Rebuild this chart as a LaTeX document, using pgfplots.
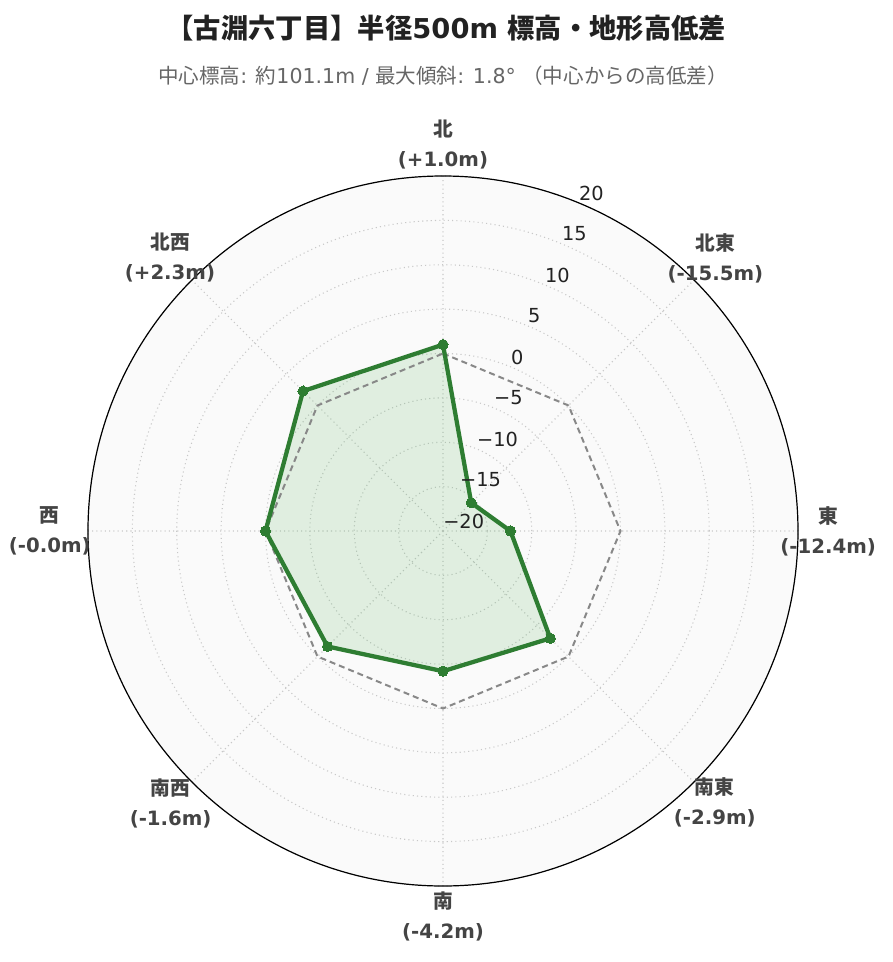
\documentclass[border=0pt]{standalone}
\usepackage{fontspec}
\setmainfont{DejaVu Sans}
\newfontfamily\jp{Noto Sans CJK JP}
\usepackage{pgfplots}
\usepgfplotslibrary{polar}
\pgfplotsset{compat=1.18}
\usepackage{pgfplotstable}
\definecolor{lineg}{HTML}{2E7D32}
\definecolor{fillg}{HTML}{4CAF50}
\definecolor{bg}{HTML}{FAFAFA}
\definecolor{gridc}{HTML}{C8C8C8}
\definecolor{refc}{HTML}{888888}
\definecolor{labc}{HTML}{444444}
\definecolor{subc}{HTML}{666666}
\definecolor{titc}{HTML}{222222}
\tikzset{
 tl/.style={anchor=west, inner sep=0pt, yshift=7.5pt, text=titc, font=\fontsize{14.5}{16}\selectfont},
 al/.style={align=center, text=labc, font=\bfseries\fontsize{14.8}{22.5}\selectfont},
}
\pgfplotstableread{
ang v ref
90 1.0 0
45 -15.5 0
0 -12.4 0
315 -2.9 0
270 -4.2 0
225 -1.6 0
180 -0.0 0
135 2.3 0
90 1.0 0
}\data
\begin{document}
\begin{tikzpicture}
\begin{polaraxis}[
 at={(0pt,0pt)}, anchor=center,
 scale only axis, width=532.5pt, height=532.5pt,
 xmin=0, xmax=360, ymin=0, ymax=40,
 xtick={0,45,...,315}, xticklabels={},
 ytick={0,5,...,40}, yticklabels={},
 major tick length=0pt,
 grid=major,
 major grid style={gridc, line width=0.8pt, dash pattern=on 0.8pt off 2.4pt},
 separate axis lines,
 x axis line style={black, line width=0.9pt},
 y axis line style={draw=none},
 axis background/.style={fill=bg},
 clip=false,
]
\addplot[draw=none, fill=fillg, fill opacity=0.15] table[x=ang, y expr=\thisrow{v}+20] {\data};
\addplot[refc, line width=1.5pt, dash pattern=on 4.5pt off 3pt] table[x=ang, y expr=\thisrow{ref}+20] {\data};
\addplot[lineg, line width=3.2pt, mark=*, mark size=3.8pt, mark options={fill=lineg, draw=lineg, line width=0pt}] table[x=ang, y expr=\thisrow{v}+20] {\data};
\node[tl] at (axis cs:67.5,40) {20};
\node[tl] at (axis cs:67.5,35) {15};
\node[tl] at (axis cs:67.5,30) {10};
\node[tl] at (axis cs:67.5,25) {5};
\node[tl] at (axis cs:67.5,20) {0};
\node[tl] at (axis cs:67.5,15) {−5};
\node[tl] at (axis cs:67.5,10) {−10};
\node[tl] at (axis cs:67.5,5) {−15};
\node[tl] at (axis cs:67.5,0) {−20};
\node[al] at (axis cs:90,43.5) {{\jp\bfseries 北}\\(+1.0m)};
\node[al] at (axis cs:45,43.4) {{\jp\bfseries 北東}\\(-15.5m)};
\node[al] at (axis cs:0,43.4) {{\jp\bfseries 東}\\(-12.4m)};
\node[al] at (axis cs:315,43.3) {{\jp\bfseries 南東}\\(-2.9m)};
\node[al] at (axis cs:270,43.4) {{\jp\bfseries 南}\\(-4.2m)};
\node[al] at (axis cs:225,43.4) {{\jp\bfseries 南西}\\(-1.6m)};
\node[al] at (axis cs:180,44.3) {{\jp\bfseries 西}\\(-0.0m)};
\node[al] at (axis cs:135,43.5) {{\jp\bfseries 北西}\\(+2.3m)};
\end{polaraxis}
\node[text=titc, font=\bfseries\fontsize{20.5}{24}\selectfont] at (2.5pt,377.25pt) {{\jp\bfseries 【古淵六丁目】半径}500m {\jp\bfseries 標高・地形高低差}};
\node[text=subc, font=\fontsize{15.4}{18}\selectfont] at (0pt,341.25pt) {{\jp 中心標高}: {\jp 約}101.1m / {\jp 最大傾斜}: 1.8° {\jp （中心からの高低差）}};
\pgfresetboundingbox
\useasboundingbox (-332.25pt,-323.25pt) rectangle (336.75pt,398.25pt);
\end{tikzpicture}
\end{document}
